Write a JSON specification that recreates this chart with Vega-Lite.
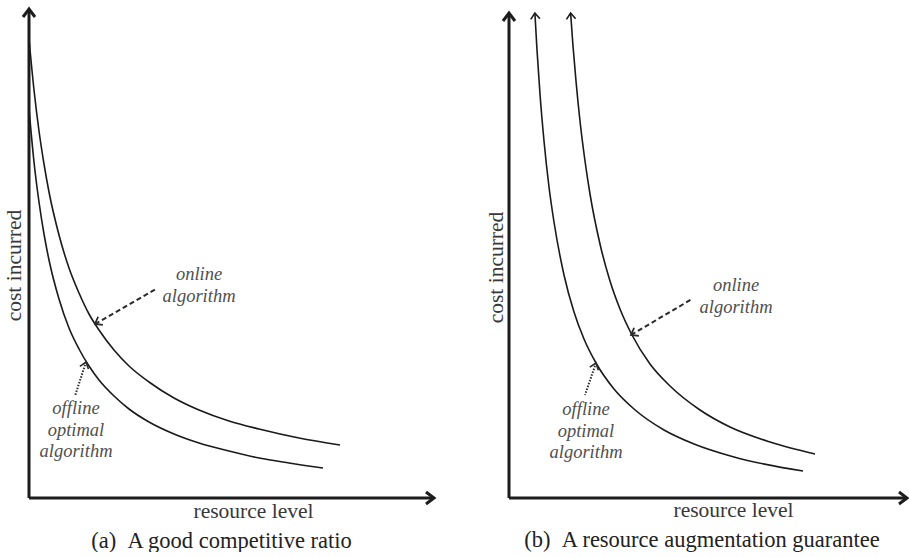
{
  "$schema": "https://vega.github.io/schema/vega-lite/v6.json",
  "background": "white",
  "padding": {"left": 3, "top": 3, "right": 0, "bottom": 0},
  "spacing": 45,
  "config": {
    "view": {"stroke": null},
    "axis": {"domain": false, "ticks": false, "labels": false, "grid": false, "titleFont": "Liberation Serif", "titleFontSize": 21.5, "titleFontWeight": "normal", "titleColor": "#383838", "titleBaseline": "middle", "titleAlign": "center"},
    "title": {"font": "Liberation Serif", "fontSize": 22.5, "fontWeight": "normal", "color": "#222222", "orient": "bottom", "anchor": "middle", "frame": "group", "offset": 8}
  },
  "datasets": {
    "curves": [
      {"panel": "a", "curve": "online", "x": 0, "y": 459},
      {"panel": "a", "curve": "online", "x": 5, "y": 408},
      {"panel": "a", "curve": "online", "x": 10, "y": 367},
      {"panel": "a", "curve": "online", "x": 15, "y": 334},
      {"panel": "a", "curve": "online", "x": 20, "y": 306},
      {"panel": "a", "curve": "online", "x": 30, "y": 263},
      {"panel": "a", "curve": "online", "x": 40, "y": 230},
      {"panel": "a", "curve": "online", "x": 50, "y": 205},
      {"panel": "a", "curve": "online", "x": 60, "y": 184},
      {"panel": "a", "curve": "online", "x": 70, "y": 168},
      {"panel": "a", "curve": "online", "x": 85, "y": 148},
      {"panel": "a", "curve": "online", "x": 100, "y": 132},
      {"panel": "a", "curve": "online", "x": 120, "y": 116},
      {"panel": "a", "curve": "online", "x": 145, "y": 100},
      {"panel": "a", "curve": "online", "x": 170, "y": 88},
      {"panel": "a", "curve": "online", "x": 200, "y": 77},
      {"panel": "a", "curve": "online", "x": 230, "y": 69},
      {"panel": "a", "curve": "online", "x": 270, "y": 60},
      {"panel": "a", "curve": "online", "x": 311, "y": 53},
      {"panel": "a", "curve": "offline", "x": 0, "y": 389},
      {"panel": "a", "curve": "offline", "x": 5, "y": 336},
      {"panel": "a", "curve": "offline", "x": 10, "y": 296},
      {"panel": "a", "curve": "offline", "x": 15, "y": 264},
      {"panel": "a", "curve": "offline", "x": 20, "y": 238},
      {"panel": "a", "curve": "offline", "x": 30, "y": 199},
      {"panel": "a", "curve": "offline", "x": 40, "y": 170},
      {"panel": "a", "curve": "offline", "x": 50, "y": 149},
      {"panel": "a", "curve": "offline", "x": 60, "y": 132},
      {"panel": "a", "curve": "offline", "x": 70, "y": 118},
      {"panel": "a", "curve": "offline", "x": 85, "y": 102},
      {"panel": "a", "curve": "offline", "x": 100, "y": 89},
      {"panel": "a", "curve": "offline", "x": 120, "y": 76},
      {"panel": "a", "curve": "offline", "x": 145, "y": 64},
      {"panel": "a", "curve": "offline", "x": 170, "y": 55},
      {"panel": "a", "curve": "offline", "x": 200, "y": 47},
      {"panel": "a", "curve": "offline", "x": 230, "y": 40},
      {"panel": "a", "curve": "offline", "x": 260, "y": 35},
      {"panel": "a", "curve": "offline", "x": 294, "y": 30},
      {"panel": "b", "curve": "online", "x": 61.6, "y": 485},
      {"panel": "b", "curve": "online", "x": 64, "y": 452},
      {"panel": "b", "curve": "online", "x": 67, "y": 417},
      {"panel": "b", "curve": "online", "x": 71, "y": 377},
      {"panel": "b", "curve": "online", "x": 76, "y": 337},
      {"panel": "b", "curve": "online", "x": 81, "y": 304},
      {"panel": "b", "curve": "online", "x": 91, "y": 254},
      {"panel": "b", "curve": "online", "x": 101, "y": 217},
      {"panel": "b", "curve": "online", "x": 111, "y": 189},
      {"panel": "b", "curve": "online", "x": 123, "y": 163},
      {"panel": "b", "curve": "online", "x": 141, "y": 134},
      {"panel": "b", "curve": "online", "x": 161, "y": 112},
      {"panel": "b", "curve": "online", "x": 191, "y": 88},
      {"panel": "b", "curve": "online", "x": 221, "y": 71},
      {"panel": "b", "curve": "online", "x": 261, "y": 56},
      {"panel": "b", "curve": "online", "x": 306, "y": 44},
      {"panel": "b", "curve": "offline", "x": 25.9, "y": 485},
      {"panel": "b", "curve": "offline", "x": 28, "y": 448},
      {"panel": "b", "curve": "offline", "x": 31, "y": 404},
      {"panel": "b", "curve": "offline", "x": 35, "y": 357},
      {"panel": "b", "curve": "offline", "x": 40, "y": 311},
      {"panel": "b", "curve": "offline", "x": 45, "y": 276},
      {"panel": "b", "curve": "offline", "x": 55, "y": 223},
      {"panel": "b", "curve": "offline", "x": 65, "y": 186},
      {"panel": "b", "curve": "offline", "x": 75, "y": 159},
      {"panel": "b", "curve": "offline", "x": 87, "y": 135},
      {"panel": "b", "curve": "offline", "x": 105, "y": 109},
      {"panel": "b", "curve": "offline", "x": 125, "y": 89},
      {"panel": "b", "curve": "offline", "x": 155, "y": 68},
      {"panel": "b", "curve": "offline", "x": 185, "y": 54},
      {"panel": "b", "curve": "offline", "x": 225, "y": 41},
      {"panel": "b", "curve": "offline", "x": 294, "y": 27}
    ],
    "arrows": [
      {"panel": "a", "kind": "axis-x", "x": 405, "y": 0, "x2": 0, "y2": 0},
      {"panel": "a", "kind": "axis-y", "x": 0, "y": 489, "x2": 0, "y2": 0},
      {"panel": "a", "kind": "dashed", "x": 66, "y": 174, "x2": 127, "y2": 209},
      {"panel": "a", "kind": "dotted", "x": 57, "y": 136, "x2": 46, "y2": 102},
      {"panel": "b", "kind": "axis-x", "x": 398, "y": 0, "x2": 0, "y2": 0},
      {"panel": "b", "kind": "axis-y", "x": 0, "y": 485, "x2": 0, "y2": 0},
      {"panel": "b", "kind": "dashed", "x": 122, "y": 163, "x2": 183, "y2": 199},
      {"panel": "b", "kind": "dotted", "x": 87, "y": 135, "x2": 76, "y2": 103},
      {"panel": "b", "kind": "curve", "x": 25.9, "y": 485, "x2": 28, "y2": 448},
      {"panel": "b", "kind": "curve", "x": 61.6, "y": 485, "x2": 64, "y2": 452}
    ],
    "labels": [
      {"panel": "a", "label": "online\nalgorithm", "x": 170, "y": 224},
      {"panel": "a", "label": "offline\noptimal\nalgorithm", "x": 47, "y": 90},
      {"panel": "b", "label": "online\nalgorithm", "x": 227, "y": 213},
      {"panel": "b", "label": "offline\noptimal\nalgorithm", "x": 77, "y": 89}
    ]
  },
  "hconcat": [
    {
      "width": 405,
      "height": 490,
      "title": {"text": "(a)\u00a0\u00a0A good competitive ratio", "dx": -10},
      "encoding": {
        "x": {"field": "x", "type": "quantitative", "scale": {"domain": [0, 405], "nice": false, "zero": false}, "axis": {"title": "resource level", "titleX": 224, "titleY": 13}},
        "y": {"field": "y", "type": "quantitative", "scale": {"domain": [0, 490], "nice": false, "zero": false}, "axis": {"title": "cost incurred", "titleX": -15, "titleY": 257, "titleAngle": 270}}
      },
      "layer": [
        {"data": {"name": "arrows"}, "transform": [{"filter": "datum.panel === 'a' && (datum.kind === 'axis-x' || datum.kind === 'axis-y')"}], "mark": {"type": "rule", "strokeWidth": 3, "color": "#1c1c1c"}, "encoding": {"x2": {"field": "x2"}, "y2": {"field": "y2"}}},
        {"data": {"name": "arrows"}, "transform": [{"filter": "datum.panel === 'a' && datum.kind === 'dashed'"}], "mark": {"type": "rule", "strokeWidth": 2, "strokeDash": [5, 3], "color": "#2a2a2a"}, "encoding": {"x2": {"field": "x2"}, "y2": {"field": "y2"}}},
        {"data": {"name": "arrows"}, "transform": [{"filter": "datum.panel === 'a' && datum.kind === 'dotted'"}], "mark": {"type": "rule", "strokeWidth": 2, "strokeDash": [1.5, 1.5], "color": "#2a2a2a"}, "encoding": {"x2": {"field": "x2"}, "y2": {"field": "y2"}}},
        {"data": {"name": "curves"}, "transform": [{"filter": "datum.panel === 'a'"}], "mark": {"type": "line", "interpolate": "monotone", "strokeWidth": 1.6, "color": "#1a1a1a"}, "encoding": {"detail": {"field": "curve"}}},
        {"data": {"name": "arrows"}, "transform": [{"filter": "datum.panel === 'a' && datum.kind === 'axis-x'"}], "mark": {"type": "point", "shape": "M-0.75,1L0,0L0.75,1", "angle": 90, "size": 256, "filled": false, "opacity": 1, "strokeWidth": 3, "color": "#1c1c1c"}},
        {"data": {"name": "arrows"}, "transform": [{"filter": "datum.panel === 'a' && datum.kind === 'axis-y'"}], "mark": {"type": "point", "shape": "M-0.75,1L0,0L0.75,1", "angle": 0, "size": 256, "filled": false, "opacity": 1, "strokeWidth": 3, "color": "#1c1c1c"}},
        {"data": {"name": "arrows"}, "transform": [{"filter": "datum.panel === 'a' && datum.kind === 'dashed'"}], "mark": {"type": "point", "shape": "M-0.75,1L0,0L0.75,1", "angle": 240, "size": 160, "filled": false, "opacity": 1, "strokeWidth": 1.8, "color": "#2a2a2a"}},
        {"data": {"name": "arrows"}, "transform": [{"filter": "datum.panel === 'a' && datum.kind === 'dotted'"}], "mark": {"type": "point", "shape": "M-0.75,1L0,0L0.75,1", "angle": 18, "size": 144, "filled": false, "opacity": 1, "strokeWidth": 1.6, "color": "#2a2a2a"}},
        {"data": {"name": "labels"}, "transform": [{"filter": "datum.panel === 'a'"}], "mark": {"type": "text", "font": "Liberation Serif", "fontStyle": "italic", "fontSize": 18.5, "color": "#505050", "lineBreak": "\n", "lineHeight": 21.5, "align": "center", "baseline": "middle"}, "encoding": {"text": {"field": "label"}}}
      ]
    },
    {
      "width": 400,
      "height": 490,
      "title": {"text": "(b)\u00a0\u00a0A resource augmentation guarantee", "dx": -7},
      "encoding": {
        "x": {"field": "x", "type": "quantitative", "scale": {"domain": [0, 400], "nice": false, "zero": false}, "axis": {"title": "resource level", "titleX": 224, "titleY": 12}},
        "y": {"field": "y", "type": "quantitative", "scale": {"domain": [0, 490], "nice": false, "zero": false}, "axis": {"title": "cost incurred", "titleX": -13, "titleY": 259, "titleAngle": 270}}
      },
      "layer": [
        {"data": {"name": "arrows"}, "transform": [{"filter": "datum.panel === 'b' && (datum.kind === 'axis-x' || datum.kind === 'axis-y')"}], "mark": {"type": "rule", "strokeWidth": 3, "color": "#1c1c1c"}, "encoding": {"x2": {"field": "x2"}, "y2": {"field": "y2"}}},
        {"data": {"name": "arrows"}, "transform": [{"filter": "datum.panel === 'b' && datum.kind === 'dashed'"}], "mark": {"type": "rule", "strokeWidth": 2, "strokeDash": [5, 3], "color": "#2a2a2a"}, "encoding": {"x2": {"field": "x2"}, "y2": {"field": "y2"}}},
        {"data": {"name": "arrows"}, "transform": [{"filter": "datum.panel === 'b' && datum.kind === 'dotted'"}], "mark": {"type": "rule", "strokeWidth": 2, "strokeDash": [1.5, 1.5], "color": "#2a2a2a"}, "encoding": {"x2": {"field": "x2"}, "y2": {"field": "y2"}}},
        {"data": {"name": "curves"}, "transform": [{"filter": "datum.panel === 'b'"}], "mark": {"type": "line", "interpolate": "monotone", "strokeWidth": 1.6, "color": "#1a1a1a"}, "encoding": {"detail": {"field": "curve"}}},
        {"data": {"name": "arrows"}, "transform": [{"filter": "datum.panel === 'b' && datum.kind === 'axis-x'"}], "mark": {"type": "point", "shape": "M-0.75,1L0,0L0.75,1", "angle": 90, "size": 256, "filled": false, "opacity": 1, "strokeWidth": 3, "color": "#1c1c1c"}},
        {"data": {"name": "arrows"}, "transform": [{"filter": "datum.panel === 'b' && datum.kind === 'axis-y'"}], "mark": {"type": "point", "shape": "M-0.75,1L0,0L0.75,1", "angle": 0, "size": 256, "filled": false, "opacity": 1, "strokeWidth": 3, "color": "#1c1c1c"}},
        {"data": {"name": "arrows"}, "transform": [{"filter": "datum.panel === 'b' && datum.kind === 'curve'"}], "mark": {"type": "point", "shape": "M-0.75,1L0,0L0.75,1", "angle": 356, "size": 150, "filled": false, "opacity": 1, "strokeWidth": 1.6, "color": "#1a1a1a"}},
        {"data": {"name": "arrows"}, "transform": [{"filter": "datum.panel === 'b' && datum.kind === 'dashed'"}], "mark": {"type": "point", "shape": "M-0.75,1L0,0L0.75,1", "angle": 240, "size": 160, "filled": false, "opacity": 1, "strokeWidth": 1.8, "color": "#2a2a2a"}},
        {"data": {"name": "arrows"}, "transform": [{"filter": "datum.panel === 'b' && datum.kind === 'dotted'"}], "mark": {"type": "point", "shape": "M-0.75,1L0,0L0.75,1", "angle": 19, "size": 144, "filled": false, "opacity": 1, "strokeWidth": 1.6, "color": "#2a2a2a"}},
        {"data": {"name": "labels"}, "transform": [{"filter": "datum.panel === 'b'"}], "mark": {"type": "text", "font": "Liberation Serif", "fontStyle": "italic", "fontSize": 18.5, "color": "#505050", "lineBreak": "\n", "lineHeight": 21.5, "align": "center", "baseline": "middle"}, "encoding": {"text": {"field": "label"}}}
      ]
    }
  ]
}
